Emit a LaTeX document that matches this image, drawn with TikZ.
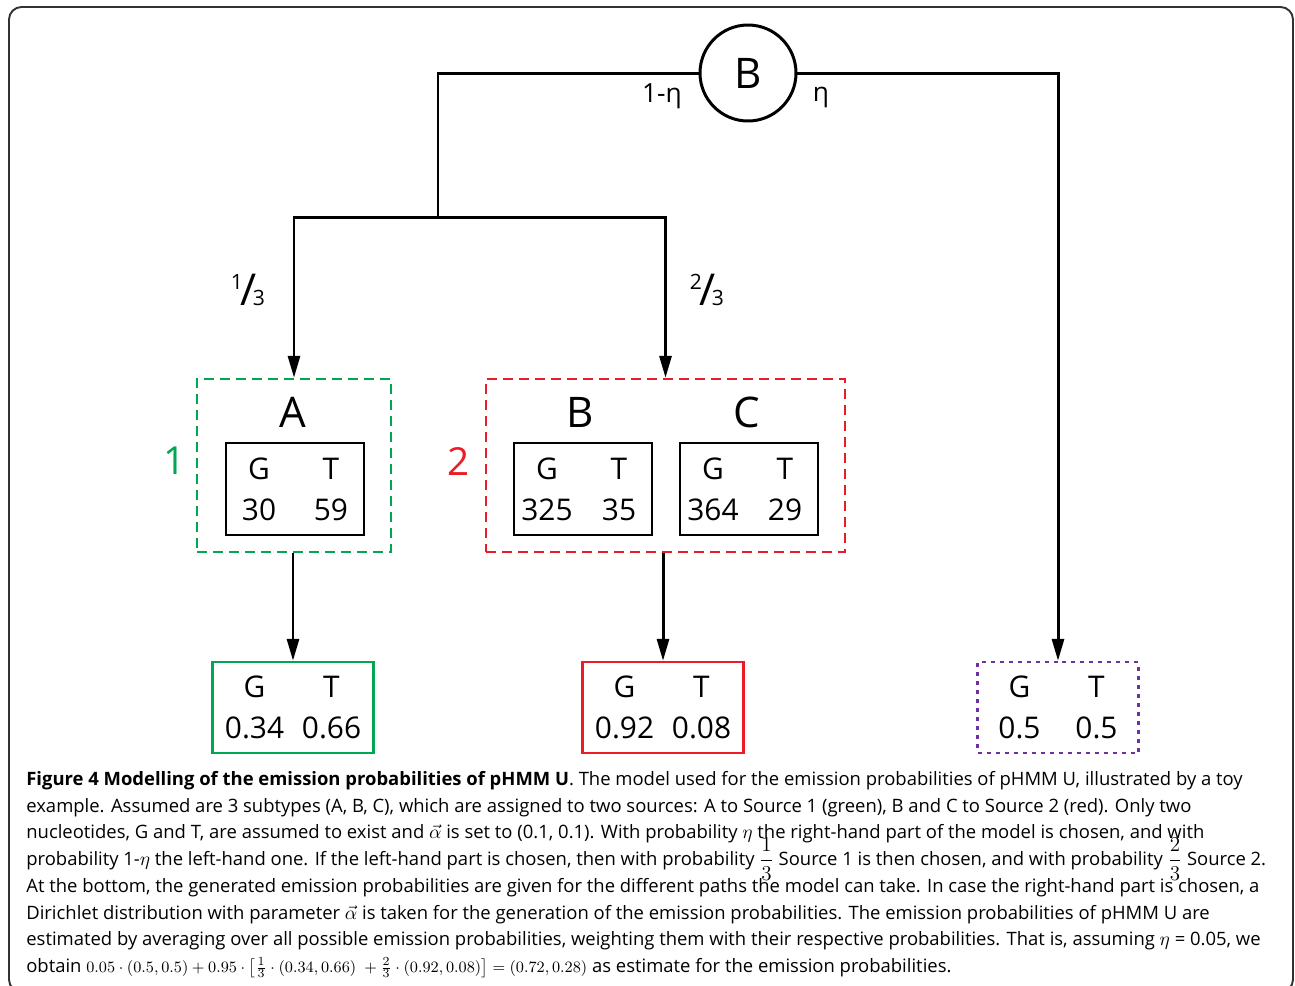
\documentclass[tikz,border=0pt]{standalone}
\usepackage{fontspec}
\setmainfont{Open Sans}
\usepackage{amsmath}
\usetikzlibrary{arrows.meta, positioning}
\definecolor{srcgreen}{RGB}{0,166,81}
\definecolor{srcred}{RGB}{237,28,36}
\definecolor{unipurple}{RGB}{112,48,160}
\definecolor{framegray}{RGB}{50,50,50}
\newcommand{\emis}[3]{\makebox[0pt]{G}\hspace{#1}\makebox[0pt]{T}\\\makebox[0pt]{#2}\hspace{#1}\makebox[0pt]{#3}}
\newcommand{\slfrac}[2]{\raisebox{9pt}{\fontsize{12}{12}\selectfont#1}\kern-1.5pt{\fontsize{25}{25}\selectfont/}\kern-2pt{\fontsize{12}{12}\selectfont#2}}

\begin{document}
\begin{tikzpicture}[
        x=0.02cm, y=-0.02cm,
        wire/.style={line width=1.7pt},
        flow/.style={wire, -{Triangle[length=0.44cm, width=0.24cm]}},
        bigtxt/.style={font=\fontsize{24}{28}\selectfont},
        lbltxt/.style={font=\fontsize{15}{18}\selectfont},
        srcbox/.style={rectangle, line width=1.4pt, dash pattern=on 0.2cm off 0.12cm, minimum height=3.46cm},
        cntbox/.style={rectangle, draw, line width=1.4pt, minimum width=2.76cm, minimum height=1.84cm, inner sep=0, align=center, font=\fontsize{17}{23.3}\selectfont},
        outbox/.style={rectangle, draw, line width=1.4pt, minimum width=3.22cm, minimum height=1.82cm, inner sep=0, align=center, font=\fontsize{17}{23.3}\selectfont}
    ]
        \useasboundingbox (0,0) rectangle (1295,985);
        \draw[framegray, line width=1.1pt, rounded corners=0.25cm] (9,7) rectangle (1293,992);

        % Root choice
        \node[circle, draw, line width=1.7pt, minimum size=1.92cm, inner sep=0, bigtxt] (root) at (748,73) {B};
        \node[lbltxt] (pleft) at (662,96) {1-η};
        \node[lbltxt] (pright) at (821,97) {η};
        \coordinate (split) at (438,217);

        % Sources
        \node[srcbox, draw=srcgreen, minimum width=3.88cm] (src1) at (294,465.5) {};
        \node[srcbox, draw=srcred, minimum width=7.18cm] (src2) at (665.5,465.5) {};
        \node[text=srcgreen, font=\fontsize{22}{26}\selectfont] (lab1) at (175,461) {1};
        \node[text=srcred, font=\fontsize{22}{26}\selectfont] (lab2) at (459,461) {2};
        \node (fracA) at (248,290) {\slfrac{1}{3}};
        \node (fracB) at (707,290) {\slfrac{2}{3}};

        % Subtypes
        \node[bigtxt] (typeA) at (293,412) {A};
        \node[bigtxt] (typeB) at (580,412) {B};
        \node[bigtxt] (typeC) at (747,412) {C};
        \node[cntbox] (cntA) at (295,489) {\emis{1.44cm}{30}{59}};
        \node[cntbox] (cntB) at (583,489) {\emis{1.44cm}{325}{35}};
        \node[cntbox] (cntC) at (749,489) {\emis{1.44cm}{364}{29}};

        % Emission probabilities
        \node[outbox, draw=srcgreen] (out1) at (293,707.5) {\emis{1.54cm}{0.34}{0.66}};
        \node[outbox, draw=srcred] (out2) at (663,707.5) {\emis{1.54cm}{0.92}{0.08}};
        \node[outbox, draw=unipurple, dash pattern=on 0.08cm off 0.1cm] (out3) at (1058,707.5) {\emis{1.54cm}{0.5}{0.5}};

        % Arrows
        \draw[wire] (root.west) -| (split);
        \draw[flow] (split) -| (src1.north);
        \draw[flow] (split) -| (src2.north);
        \draw[flow] (root.east) -| (out3.north);
        \draw[flow] (out1.north |- src1.south) -- (out1.north);
        \draw[flow] (out2.north |- src2.south) -- (out2.north);

        % Caption
        \node[anchor=north west, inner sep=0, align=left, font=\fontsize{10.5}{15.2}\selectfont] (caption) at (26,771) {%
\textbf{Figure 4 Modelling of the emission probabilities of pHMM U}. The model used for the emission probabilities of pHMM U, illustrated by a toy\\
example. Assumed are 3 subtypes (A, B, C), which are assigned to two sources: A to Source 1 (green), B and C to Source 2 (red). Only two\\
nucleotides, G and T, are assumed to exist and $\vec{\alpha}$ is set to (0.1, 0.1). With probability $\eta$ the right-hand part of the model is chosen, and with\\
probability 1-$\eta$ the left-hand one. If the left-hand part is chosen, then with probability {\fontsize{13}{13}\selectfont\smash{$\dfrac{1}{3}$}} Source 1 is then chosen, and with probability {\fontsize{13}{13}\selectfont\smash{$\dfrac{2}{3}$}} Source 2.\\
At the bottom, the generated emission probabilities are given for the different paths the model can take. In case the right-hand part is chosen, a\\
Dirichlet distribution with parameter $\vec{\alpha}$ is taken for the generation of the emission probabilities. The emission probabilities of pHMM U are\\
estimated by averaging over all possible emission probabilities, weighting them with their respective probabilities. That is, assuming $\eta$ = 0.05, we\\
obtain {\fontsize{9.5}{9.5}\selectfont$0.05\cdot(0.5,0.5)+0.95\cdot\bigl[\tfrac{1}{3}\cdot(0.34,0.66)\;+\tfrac{2}{3}\cdot(0.92,0.08)\bigr]=(0.72,0.28)$} as estimate for the emission probabilities.};
    \end{tikzpicture}
\end{document}
